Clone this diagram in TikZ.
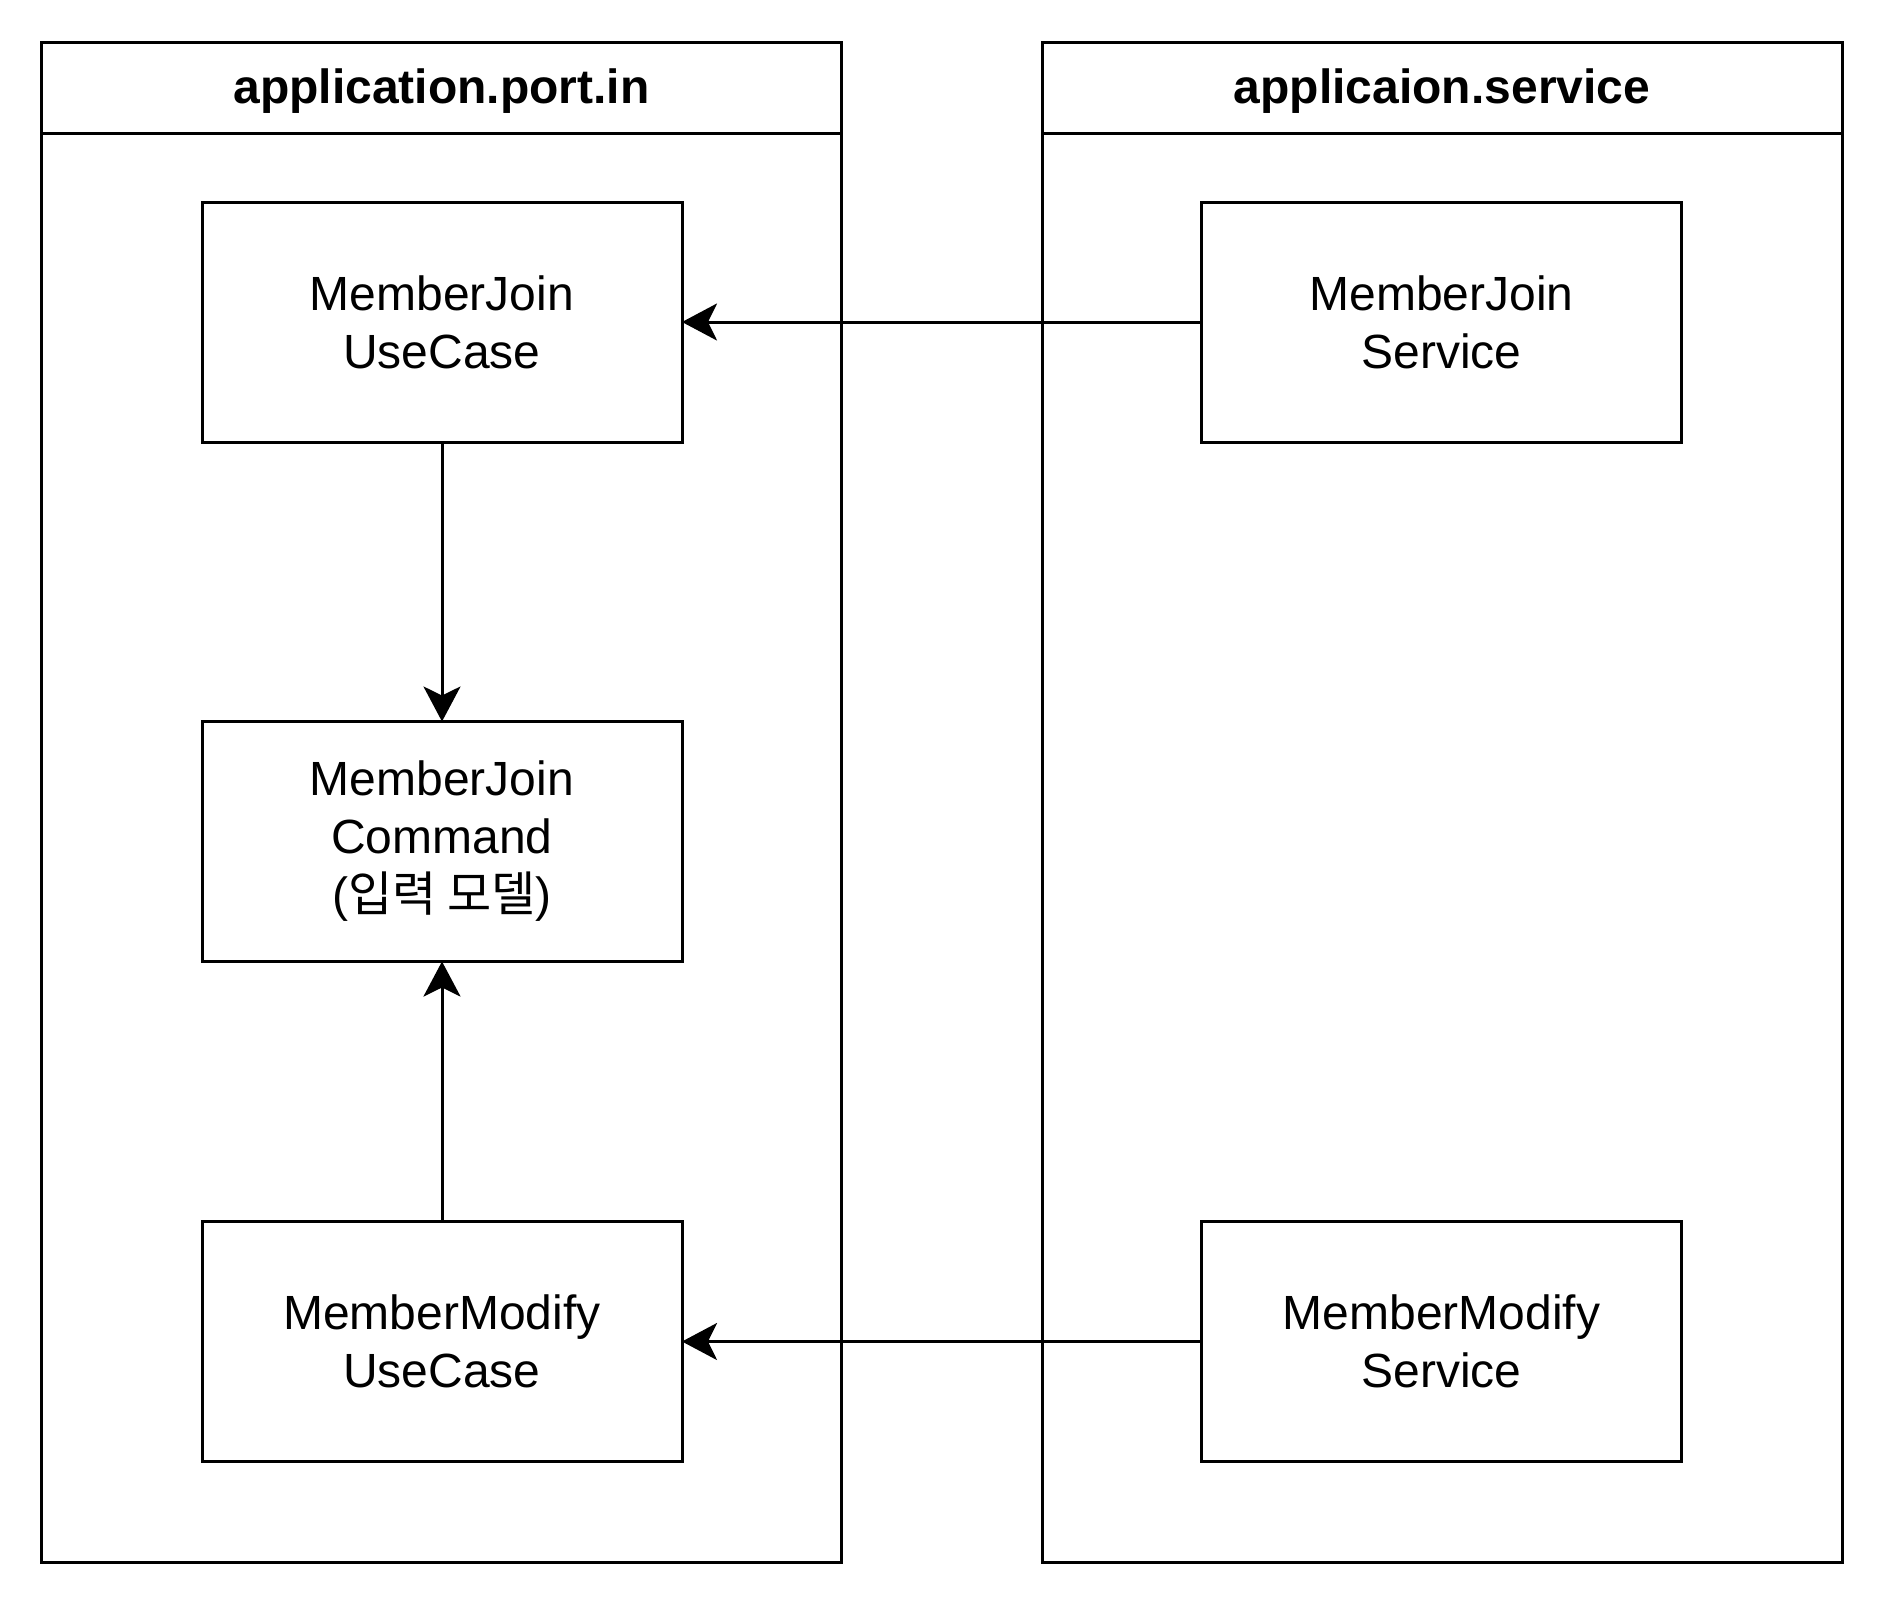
\documentclass[tikz,border=0pt]{standalone}
\usepackage{fontspec}
\setmainfont{Liberation Sans}
\newfontfamily\krfont{Noto Sans CJK KR}
\usetikzlibrary{arrows.meta}
\begin{document}
\begin{tikzpicture}[x=1pt,y=-1pt,
  every node/.style={inner sep=0pt,outer sep=0pt},
  container/.style={draw,line width=3pt,minimum width=800pt,minimum height=1520pt},
  title/.style={font=\fontsize{48}{58}\selectfont\bfseries},
  box/.style={draw,line width=3pt,minimum width=480pt,minimum height=240pt,align=center,font=\fontsize{48}{58}\selectfont},
  arr/.style={line width=3pt,-{Stealth[length=35pt,width=37pt,inset=9pt]}}]
\useasboundingbox (0,0) rectangle (1884,1604);
\fill[white] (0,0) rectangle (1884,1604);
% containers
\node[container] (lc) at (441.5,802) {};
\node[container] (rc) at (1442,802) {};
\draw[line width=3pt] (lc.west |- 0,133) -- (lc.east |- 0,133);
\draw[line width=3pt] (rc.west |- 0,133) -- (rc.east |- 0,133);
\node[title] (lt) at (441.5,91) {application.port.in};
\node[title] (rt) at (1442,91) {applicaion.service};
% boxes
\node[box] (mju) at (442,322) {MemberJoin\\UseCase};
\node[box] (mjc) at (442,841.5) {MemberJoin\\Command\\({\krfont 입력 모델})};
\node[box] (mmu) at (442,1341.5) {MemberModify\\UseCase};
\node[box] (mjs) at (1441.5,322) {MemberJoin\\Service};
\node[box] (mms) at (1441.5,1341.5) {MemberModify\\Service};
% arrows
\draw[arr] (mjs.west) -- (mju.east);
\draw[arr] (mms.west) -- (mmu.east);
\draw[arr] (mju.south) -- (mjc.north);
\draw[arr] (mmu.north) -- (mjc.south);
\end{tikzpicture}
\end{document}
